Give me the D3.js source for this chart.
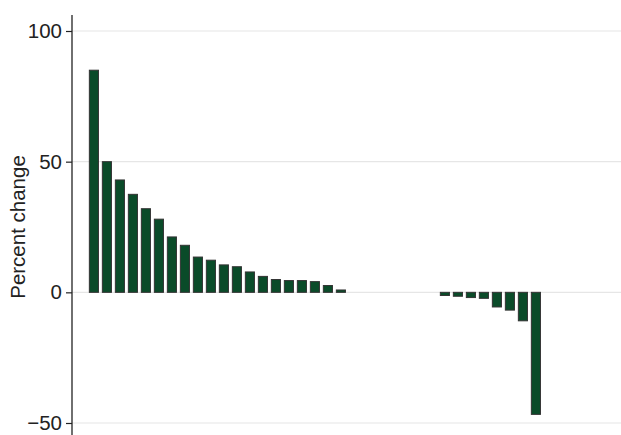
<!DOCTYPE html>
<html>
<head>
<meta charset="utf-8">
<script src="https://cdn.jsdelivr.net/npm/d3@7"></script>
<style>
  body { margin: 0; background: #fff; }
  text { font-family: "Liberation Sans", Arial, Helvetica, sans-serif; }
</style>
</head>
<body>
<svg id="chart" width="621" height="435"></svg>
<script>
// values, sorted as drawn
const positives = [85, 50, 43, 37.5, 32, 28, 21.2, 18, 13.5, 12.3, 10.5, 9.8, 7.8, 6.1, 4.9, 4.5, 4.5, 4.1, 2.6, 0.9];
const zeros = [0, 0, 0, 0, 0, 0, 0];
const negatives = [-1.2, -1.5, -2.0, -2.3, -5.6, -6.8, -10.9, -46.7];
const values = positives.concat(zeros, negatives);
const yTicks = [-50, 0, 50, 100];

const svg = d3.select("#chart");

const y = d3.scaleLinear().domain([-50, 100]).range([423, 31]);
const x = d3.scaleBand()
  .domain(values.map((d, i) => i))
  .range([87.4, 87.4 + values.length * 13])
  .paddingInner(0.3)
  .paddingOuter(0.15);

// gridlines
svg.append("g")
  .selectAll("line")
  .data(yTicks)
  .enter()
  .append("line")
  .attr("x1", 72)
  .attr("x2", 621)
  .attr("y1", d => y(d))
  .attr("y2", d => y(d))
  .attr("stroke", "#e6e6e6")
  .attr("stroke-width", 1.2);

// bars
svg.append("g")
  .selectAll("rect")
  .data(values.map((v, i) => ({ v, i })).filter(d => d.v !== 0))
  .enter()
  .append("rect")
  .attr("x", d => x(d.i))
  .attr("width", x.bandwidth())
  .attr("y", d => y(Math.max(0, d.v)))
  .attr("height", d => Math.abs(y(d.v) - y(0)))
  .attr("fill", "#0a4b29")
  .attr("stroke", "#333")
  .attr("stroke-width", 1);

// y axis
const axis = d3.axisLeft(y)
  .tickValues(yTicks)
  .tickSize(6)
  .tickPadding(4)
  .tickFormat(d => d < 0 ? "\u2212" + Math.abs(d) : d);

const ag = svg.append("g")
  .attr("transform", "translate(72,0)")
  .call(axis);
ag.select(".domain").remove();
ag.selectAll(".tick line").attr("stroke", "#222").attr("stroke-width", 1.2);
ag.selectAll(".tick text")
  .attr("font-size", "20.5px")
  .attr("fill", "#222")
  .attr("font-family", "Liberation Sans, Arial, sans-serif");

svg.append("line")
  .attr("x1", 72).attr("x2", 72)
  .attr("y1", 15).attr("y2", 435)
  .attr("stroke", "#222")
  .attr("stroke-width", 1.3);

svg.append("text")
  .attr("transform", "translate(25,227) rotate(-90)")
  .attr("text-anchor", "middle")
  .attr("font-size", "20.5px")
  .attr("fill", "#222")
  .text("Percent change");
</script>
</body>
</html>
